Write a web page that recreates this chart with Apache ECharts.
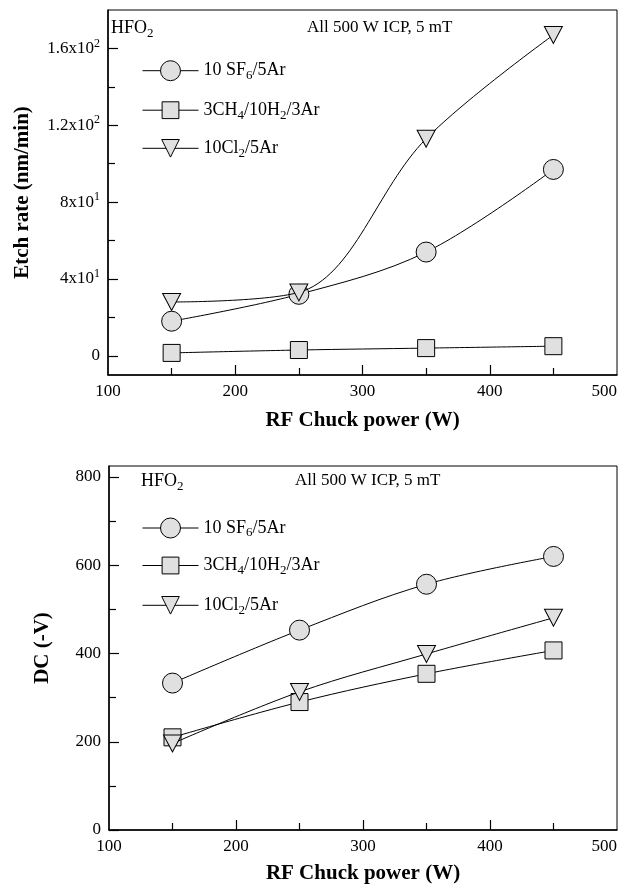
<!DOCTYPE html>
<html>
<head>
<meta charset="utf-8">
<script src="https://cdn.jsdelivr.net/npm/echarts@6/dist/echarts.min.js"></script>
<style>
html,body{margin:0;padding:0;background:#fff;}
#chart{width:627px;height:887px;}
</style>
</head>
<body>
<div id="chart"></div>
<script>
// ---- data ----
var power = [150, 250, 350, 450];
var seriesNames = ['SF6', 'CH4', 'Cl2'];
var legendLabels = ['10 SF{sub|6}/5Ar', '3CH{sub|4}/10H{sub|2}/3Ar', '10Cl{sub|2}/5Ar'];

var etchSF6 = [18, 32, 54, 97];
var etchCH4 = [1.5, 3, 4, 5];
var etchCl2 = [28, 33, 113, 167];

var dcSF6 = [333, 453, 557, 620];
var dcCH4 = [210, 290, 354, 407];
var dcCl2 = [196, 313, 399, 481];

var xMajorTicks = [200, 300, 400];
var xMinorTicks = [150, 250, 350, 450];
var xLabels = [100, 200, 300, 400, 500];

var etchMajorTicks = [0, 40, 80, 120, 160];
var etchMinorTicks = [20, 60, 100, 140];
var etchTickLabels = ['0', '4x10{sup|1}', '8x10{sup|1}', '1.2x10{sup|2}', '1.6x10{sup|2}'];

var dcMajorTicks = [0, 200, 400, 600, 800];
var dcMinorTicks = [100, 300, 500, 700];

// ---- styles ----
var FONT = 'Liberation Serif';
function rich(size) {
  return {
    sub: {fontSize: Math.round(size * 0.7), fontFamily: FONT, color: '#000', padding: [Math.round(size * 0.55), 0, 0, 0]},
    sup: {fontSize: Math.round(size * 0.7), fontFamily: FONT, color: '#000', padding: [0, 0, Math.round(size * 0.6), 0]}
  };
}
var symbols = ['circle', 'rect', 'triangle'];
var symbolSizes = [20, 17, [18, 17]];
var symbolRotates = [0, 0, 180];
var legendHeights = [25, 21, 22];
var markerStyle = {color: '#e0e0e0', borderColor: '#000', borderWidth: 1};

var grids = [
  {left: 108, right: 10, top: 10, height: 365},
  {left: 109, right: 10, top: 466, height: 364}
];

function xAxes(gi) {
  return [
    {
      type: 'value', gridIndex: gi, min: 100, max: 500, position: 'bottom',
      axisLine: {show: true, onZero: false, lineStyle: {color: '#000', width: 1.5}},
      axisTick: {show: true, inside: true, length: 10, customValues: xMajorTicks, lineStyle: {color: '#000', width: 1.2}},
      axisLabel: {customValues: xLabels, margin: 8, color: '#000', fontFamily: FONT, fontSize: 17, alignMaxLabel: 'right'},
      splitLine: {show: false},
      name: 'RF Chuck power (W)', nameLocation: 'middle', nameGap: gi === 0 ? 35 : 33,
      nameTextStyle: {fontFamily: FONT, fontWeight: 'bold', fontSize: 21, color: '#000'}
    },
    {
      type: 'value', gridIndex: gi, min: 100, max: 500, position: 'bottom',
      axisLine: {show: false, onZero: false},
      axisTick: {show: true, inside: true, length: 7, customValues: xMinorTicks, lineStyle: {color: '#000', width: 1.2}},
      axisLabel: {show: false},
      splitLine: {show: false}
    }
  ];
}

function yAxes(gi) {
  var isTop = gi === 0;
  var major = isTop ? etchMajorTicks : dcMajorTicks;
  var minor = isTop ? etchMinorTicks : dcMinorTicks;
  return [
    {
      type: 'value', gridIndex: gi, position: 'left',
      min: isTop ? -10 : 0, max: isTop ? 180 : 825,
      axisLine: {show: true, onZero: false, lineStyle: {color: '#000', width: 1.5}},
      axisTick: {show: true, inside: true, length: 10, customValues: major, lineStyle: {color: '#000', width: 1.2}},
      axisLabel: {
        customValues: major, margin: 8, color: '#000', fontFamily: FONT, fontSize: 17,
        formatter: function (v) {
          if (!isTop) return String(v);
          var i = etchMajorTicks.indexOf(v);
          return i >= 0 ? etchTickLabels[i] : '';
        },
        rich: rich(17)
      },
      splitLine: {show: false},
      name: isTop ? 'Etch rate (nm/min)' : 'DC (-V)',
      nameLocation: 'middle', nameRotate: 90, nameGap: isTop ? 75 : 56,
      nameTextStyle: {fontFamily: FONT, fontWeight: 'bold', fontSize: 21, color: '#000'}
    },
    {
      type: 'value', gridIndex: gi, position: 'left',
      min: isTop ? -10 : 0, max: isTop ? 180 : 825,
      axisLine: {show: false, onZero: false},
      axisTick: {show: true, inside: true, length: 7, customValues: minor, lineStyle: {color: '#000', width: 1.2}},
      axisLabel: {show: false},
      splitLine: {show: false}
    }
  ];
}

var seriesData = [
  [etchSF6, etchCH4, etchCl2],
  [dcSF6, dcCH4, dcCl2]
];

var series = [];
seriesData.forEach(function (group, gi) {
  group.forEach(function (vals, si) {
    series.push({
      type: 'line',
      name: seriesNames[si],
      xAxisIndex: gi * 2,
      yAxisIndex: gi * 2,
      data: power.map(function (p, k) { return [p, vals[k]]; }),
      smooth: 0.35,
      symbol: symbols[si],
      symbolSize: symbolSizes[si],
      symbolRotate: symbolRotates[si],
      showAllSymbol: true,
      lineStyle: {color: '#000', width: 1},
      itemStyle: markerStyle,
      emphasis: {disabled: true},
      animation: false,
      z: 2 + si
    });
  });
});

var legendCenters = [
  [72.7, 111.7, 150],
  [530, 567, 607]
];
var legends = [];
legendCenters.forEach(function (centers, gi) {
  centers.forEach(function (cy, si) {
    legends.push({
      data: [seriesNames[si]],
      left: 142,
      top: cy - legendHeights[si] / 2,
      padding: 0,
      itemWidth: 56,
      itemHeight: legendHeights[si],
      selectedMode: false,
      itemStyle: {color: '#e0e0e0', borderColor: '#000', borderWidth: 1},
      lineStyle: {color: '#000', width: 1},
      formatter: function () { return legendLabels[si]; },
      textStyle: {fontFamily: FONT, fontSize: 18, color: '#000', rich: rich(18)}
    });
  });
});

var titles = [
  {text: 'HFO{sub|2}', left: 111, top: 17, size: 18},
  {text: 'All 500 W ICP, 5 mT', left: 307, top: 19, size: 17},
  {text: 'HFO{sub|2}', left: 141, top: 470, size: 18},
  {text: 'All 500 W ICP, 5 mT', left: 295, top: 472, size: 17}
].map(function (t) {
  return {
    text: t.text, left: t.left, top: t.top, padding: 0,
    textStyle: {fontFamily: FONT, fontSize: t.size, fontWeight: 'normal', color: '#000', rich: rich(t.size)}
  };
});

var option = {
  backgroundColor: '#fff',
  animation: false,
  title: titles,
  legend: legends,
  grid: grids.map(function (g) {
    return Object.assign({show: true, borderColor: '#000', borderWidth: 1, backgroundColor: 'transparent',
      containLabel: false, outerBoundsMode: 'none'}, g);
  }),
  xAxis: xAxes(0).concat(xAxes(1)),
  yAxis: yAxes(0).concat(yAxes(1)),
  series: series
};

var chart = echarts.init(document.getElementById('chart'), null, {renderer: 'canvas'});
chart.setOption(option);
</script>
</body>
</html>
